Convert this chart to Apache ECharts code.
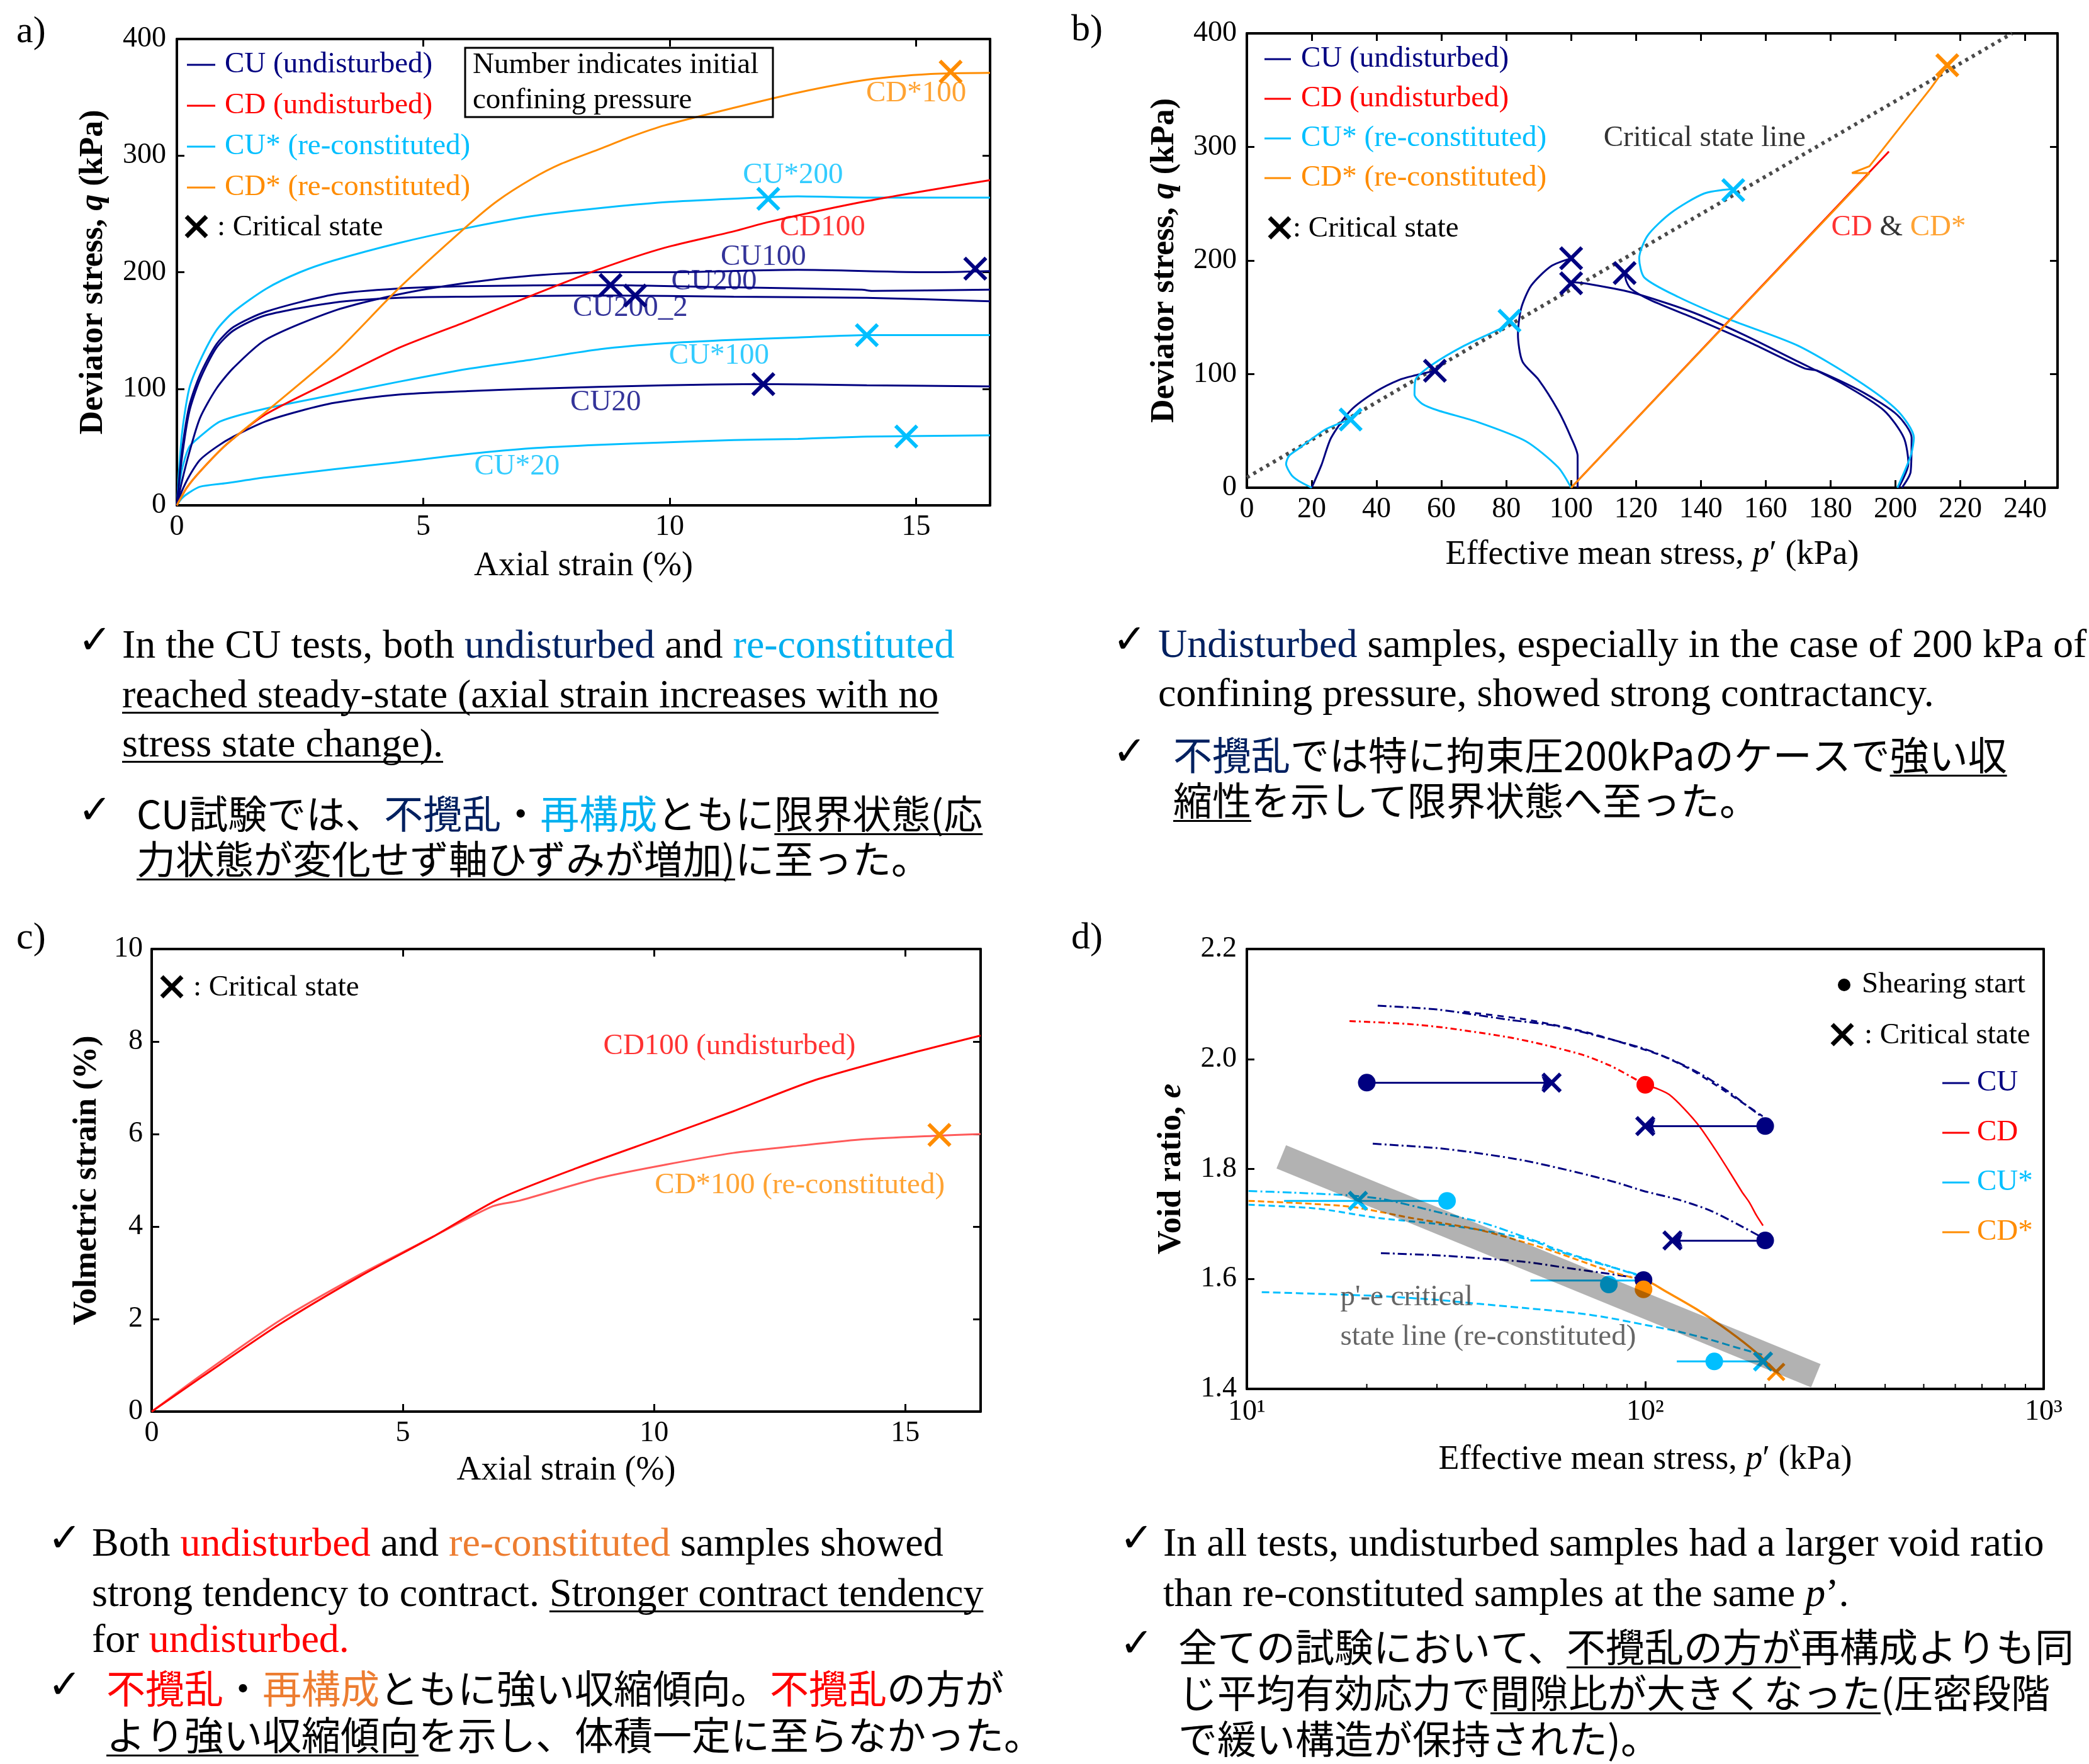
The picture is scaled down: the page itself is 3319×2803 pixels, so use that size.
<!DOCTYPE html>
<html><head><meta charset="utf-8">
<script src="https://cdn.jsdelivr.net/npm/echarts@6/dist/echarts.min.js"></script>
<style>html,body{margin:0;padding:0;background:#fff;}#c{width:3319px;height:2803px;}</style>
</head><body><div id="c"></div>
<script>
// ================= DATA =================
// Panel a : axial strain (%) vs deviator stress q (kPa)
const aCUs200 = [[0,0],[0.1,60],[0.25,100],[0.47,124],[0.8,150],[1.15,166],[1.82,186],[2.5,200],[3.18,210],[4.5,225],[5.9,238],[7.2,248],[8.6,255],[9.9,260],[11.3,263],[12.6,265],[14,264],[15.3,264],[16.5,264]];
const aCUs100 = [[0,0],[0.1,30],[0.25,50],[0.47,59],[0.88,72],[1.8,83],[3.2,95],[4.5,106],[5.9,117],[7.2,125],[8.6,134],[9.9,139],[11.3,142],[12.6,144],[14,146],[16.5,146]];
const aCUs20  = [[0,0],[0.1,6],[0.25,11],[0.47,16],[1,19],[1.8,24],[3.2,31],[4.5,37],[5.9,44],[7.2,49],[8.6,52],[9.9,54],[11.3,56],[12.6,57],[14,59],[16.5,60]];
const aCU20   = [[0,0],[0.1,12],[0.25,25],[0.47,39],[0.8,50],[1.15,59],[1.8,72],[2.5,81],[3.2,88],[4.5,95],[5.9,98],[7.2,100],[9.9,103],[11.8,104],[14,103],[16.5,102]];
const aCU200_2= [[0,0],[0.1,40],[0.25,80],[0.47,108],[0.8,135],[1.15,150],[1.8,163],[3.2,174],[4.5,178],[5.9,179],[8.6,180],[11.3,179],[14,178],[16.5,175]];
const aCU200  = [[0,0],[0.1,45],[0.25,85],[0.47,112],[0.8,138],[1.15,153],[1.8,166],[3.2,181],[4.5,186],[5.9,188],[8.6,189],[11.3,187],[13.9,185],[14.1,184],[16.5,185]];
const aCU100  = [[0,0],[0.1,20],[0.25,45],[0.47,75],[0.8,100],[1.15,118],[1.8,142],[3.2,167],[4.5,181],[5.9,191],[7.2,197],[8.6,200],[9.9,200],[12.6,202],[15.3,200],[16.5,201]];
const aCD100  = [[0,0],[0.2,15],[0.47,29],[1,52],[1.8,78],[3.2,108],[4.5,135],[5.9,158],[7.2,180],[8.6,203],[9.9,221],[11.3,235],[12.0,243],[14,261],[16.5,279]];
const aCDs100 = [[0,0],[0.2,15],[0.47,29],[1,52],[1.8,80],[3.2,130],[4.5,186],[5.9,240],[6.5,261],[7.2,280],[7.8,293],[8.6,306],[9.2,316],[9.9,326],[11.3,341],[12.6,354],[14,365],[15.3,370],[16.5,371]];
const aCritCU  = [[8.8,189],[9.3,180],[11.9,104],[16.2,203]];
const aCritCUs = [[12.0,263],[14.0,146],[14.8,59]];
const aCritCDs = [[15.7,372]];

// Panel b : p' (kPa) vs q (kPa)
const bCSL     = [[0,9],[236,400]];
const bCU20    = [[20,0],[23,20],[26,44],[32,68],[40,85],[47,95],[52,99],[55,101],[58,103]];
const bCUs20   = [[20,0],[16,6],[13.8,11],[12.1,21],[13,28],[15.8,34],[20,43],[24,51],[28,56],[32,60]];
const bCU100   = [[102,0],[102,28],[100,44],[96,68],[90,95],[85,111],[83.6,135],[84.6,158],[87.7,178],[93.8,195],[100,202]];
const bCUs100  = [[100,0],[96,18],[86,41],[71,58],[59,68],[54,74],[51.7,82],[52,95],[57,108],[67,125],[79.5,142],[81,147]];
const bCU200_2 = [[201,0],[204,21],[202.6,44],[196.5,68],[184,91],[170,111],[153,135],[137,155],[118.5,172],[104,180],[100,181]];
const bCU200   = [[202,0],[204.7,14],[205,44],[200.6,64],[190,84],[176,103],[172,105],[155,128],[139,148],[124.6,165],[118.5,175],[117,182],[116.5,189]];
const bCUs200  = [[200.6,0],[204.7,28],[205.7,44],[200.6,68],[188,95],[170,125],[149,148],[133,168],[122.6,185],[121,202],[123.6,222],[130.8,242],[141,259],[150,263]];
const bCD      = [[100,0],[198,296]];
const bCDs     = [[100,0],[192,277],[186.6,277],[192,283],[211,352],[215,368]];
const bCritCU  = [[58,103],[100,202],[100,180],[116.5,189]];
const bCritCUs = [[32,60],[81,147],[150,262]];
const bCritCDs = [[216,372]];

// Panel c : axial strain (%) vs volumetric strain (%)
const cCD100  = [[0,0],[1,0.75],[2.55,1.89],[4.14,2.92],[5.6,3.78],[6.92,4.6],[8.45,5.26],[10.24,5.96],[11.57,6.49],[13.16,7.15],[14.88,7.68],[16.5,8.13]];
const cCDs100 = [[0,0],[1,0.8],[2.55,1.97],[4.14,2.96],[5.6,3.78],[6.79,4.44],[7.32,4.56],[8.91,5.05],[10.24,5.34],[11.57,5.59],[12.9,5.75],[14.22,5.89],[15.54,5.96],[16.5,6.0]];
const cCrit   = [[15.68,5.98]];

// Panel d : p' (kPa, log) vs void ratio e
const dCUcons1  = [[21.3,2.097],[30,2.09],[45.9,2.071],[60,2.06],[81.6,2.036],[100,2.018],[119.7,1.995],[140,1.97],[162.9,1.939],[180,1.915],[197,1.894]];
const dCUcons2  = [[35,2.086],[50,2.072],[70,2.05],[90,2.027],[110,2.006],[130,1.981],[150,1.953],[175,1.921],[197,1.896]];
const dCUcons3  = [[20.7,1.846],[30,1.838],[37.9,1.829],[50,1.815],[67.3,1.794],[85,1.775],[99,1.76],[120,1.745],[145,1.725],[170,1.7],[197,1.675]];
const dCUcons4  = [[21.7,1.647],[30,1.643],[37.9,1.638],[50,1.631],[62.3,1.621],[80,1.61],[99,1.6]];
const dCDcons   = [[18.1,2.069],[25,2.064],[31.3,2.057],[45,2.04],[55.6,2.026],[70,2.007],[81.6,1.988],[92,1.968],[100,1.953]];
const dCDshear  = [[100,1.953],[108,1.945],[115,1.935],[125,1.91],[136.9,1.877],[150,1.835],[163,1.794],[175,1.758],[182.6,1.739],[190,1.716],[197.5,1.697]];
const dCUscons1 = [[10.1,1.76],[13,1.757],[18,1.752],[22,1.745],[30,1.722],[40,1.70],[53.6,1.668],[56,1.664],[58,1.655],[75,1.63],[99,1.605]];
const dCUscons2 = [[10.1,1.735],[15,1.728],[21.3,1.711],[30,1.70],[37.9,1.69],[50,1.673],[65,1.645],[80,1.625],[99,1.603]];
const dCUscons3 = [[10.9,1.576],[15,1.573],[21.3,1.569],[30,1.562],[37.9,1.555],[50,1.547],[67.3,1.538],[80,1.53],[99,1.517],[120,1.505],[145,1.49],[170,1.475],[197.5,1.462]];
const dCDscons  = [[10.1,1.742],[17.9,1.732],[25.8,1.711],[37.9,1.69],[55.6,1.656],[81.6,1.614],[99,1.597]];
const dCDsshear = [[99,1.597],[104,1.592],[111,1.58],[134.5,1.545],[162.9,1.504],[190,1.466],[213,1.431]];
const dCUpaths  = [[[20,1.957],[58.2,1.957]],[[200,1.878],[100,1.878]],[[200,1.67],[117,1.67]]];
const dCUspaths = [[[12.4,1.742],[31.8,1.742]],[[51.5,1.597],[99,1.597]],[[120,1.45],[197.5,1.45]]];
const dStartCU  = [[20,1.957],[200,1.878],[200,1.67],[99,1.598]];
const dStartCD  = [[100,1.953]];
const dStartCUs = [[31.8,1.742],[81,1.59],[149,1.45]];
const dStartCDs = [[99,1.581]];
const dCritCU   = [[58.2,1.957],[100,1.878],[117,1.67]];
const dCritCUs  = [[19,1.742],[197.5,1.45]];
const dCritCDs  = [[213,1.431]];
const dBand     = [[12.2,1.822],[268,1.424]];
const dMinorTicks = [20,30,40,50,60,70,80,90,200,300,400,500,600,700,800,900];

// Tick/axis texts
const logLabels = {1:'10\u00B9', 2:'10\u00B2', 3:'10\u00B3'};

// ================= STYLE =================
const NAVY='#000080', RED='#ff0000', CYAN='#00bfff', ORANGE='#ff8c00', SALMON='#ff5a5a';
const T_NAVY='#002060', T_CYAN='#00b0f0', T_RED='#ff0000', T_ORANGE='#ed7d31';
const FONT='"Liberation Serif","Times New Roman",serif';
const JFONT='"Noto Sans CJK JP",sans-serif';
const XPATH='path://M0,0L10,10M10,0L0,10';

function P(i){ const k=[0,2,4,6][i]; return {xAxisIndex:k, yAxisIndex:k}; }
function ln(panel, data, color, o){ o=o||{};
  return Object.assign({type:'line', data:data, symbol:'none', showSymbol:false, silent:true,
    smooth: (o.smooth===undefined?0.25:o.smooth), z:(o.z||2),
    lineStyle:{color:color, width:(o.width||3), type:(o.type||'solid'), cap:(o.cap||'butt'), opacity:1}}, P(panel)); }
function xs(panel, data, color, size, bw){
  return Object.assign({type:'scatter', data:data, symbol:XPATH, symbolSize:size||34, silent:true, z:4,
    itemStyle:{color:'rgba(0,0,0,0)', borderColor:color, borderWidth:bw||6, opacity:1}}, P(panel)); }
function dots(panel, data, color, size){
  return Object.assign({type:'scatter', data:data, symbol:'circle', symbolSize:size||28, silent:true, z:4,
    itemStyle:{color:color, opacity:1}}, P(panel)); }
function lbl(panel, x, y, text, color, pos, extra){
  return Object.assign({type:'scatter', data:[[x,y]], symbolSize:1, silent:true, z:6, itemStyle:{color:'rgba(0,0,0,0)'},
    label:Object.assign({show:true, position:pos||'inside', distance:0, formatter:text, color:color, fontFamily:FONT, fontSize:47}, extra||{})}, P(panel)); }
function arrowLine(panel, seg, color){
  return Object.assign({type:'lines', coordinateSystem:'cartesian2d', silent:true, z:3, symbol:['none','arrow'], symbolSize:16,
    lineStyle:{color:color, width:3, opacity:1, curveness:0}, data:[{coords:seg}]}, P(panel)); }

const AXL={onZero:false, lineStyle:{color:'#000', width:4}};
const TICK={show:true, inside:true, length:12, lineStyle:{color:'#000', width:3}};
const LAB={fontFamily:FONT, fontSize:46, color:'#000'};
const XNAME={fontFamily:FONT, fontSize:54, color:'#000', rich:{i:{fontFamily:FONT, fontSize:54, fontStyle:'italic', color:'#000'}}};
const YNAME={fontFamily:FONT, fontSize:52, fontWeight:'bold', color:'#000', rich:{i:{fontFamily:FONT, fontSize:52, fontStyle:'italic', fontWeight:'bold', color:'#000'}}};

function valAxis(grid, pos, min, max, interval, o){ o=o||{};
  const main = (pos==='bottom'||pos==='left');
  const a = {gridIndex:grid, type:'value', position:pos, min:min, max:max, interval:interval,
    axisLine:AXL, axisTick:TICK, splitLine:{show:false},
    axisLabel: main ? Object.assign({}, LAB, {margin:o.margin||12, showMaxLabel:o.showMax!==false, formatter:o.fmt}) : {show:false}};
  if (main && o.name){ a.name=o.name; a.nameLocation='middle'; a.nameGap=o.gap; a.nameTextStyle=o.nameStyle; }
  return a;
}

const xAxes = [
  valAxis(0,'bottom',0,16.5,5,{name:'Axial strain (%)', gap:70, nameStyle:XNAME, showMax:false, margin:12}),
  valAxis(0,'top',0,16.5,5),
  valAxis(1,'bottom',0,250,20,{name:'Effective mean stress, {i|p}\u2032 (kPa)', gap:80, nameStyle:XNAME, showMax:false, margin:12}),
  valAxis(1,'top',0,250,20),
  valAxis(2,'bottom',0,16.5,5,{name:'Axial strain (%)', gap:67, nameStyle:XNAME, showMax:false, margin:12}),
  valAxis(2,'top',0,16.5,5),
  {gridIndex:3, type:'log', logBase:10, min:10, max:1000, position:'bottom', axisLine:AXL, axisTick:TICK, splitLine:{show:false}, minorTick:{show:false},
    axisLabel:Object.assign({}, LAB, {margin:14, formatter:function(v){ return logLabels[Math.round(Math.log10(v))]||''; }}),
    name:'Effective mean stress, {i|p}\u2032 (kPa)', nameLocation:'middle', nameGap:86, nameTextStyle:XNAME},
  {gridIndex:3, type:'log', logBase:10, min:10, max:1000, position:'top', axisLine:AXL, axisTick:{show:false}, axisLabel:{show:false}, splitLine:{show:false}}
];
const yAxes = [
  valAxis(0,'left',0,400,100,{name:'Deviator stress, {i|q} (kPa)', gap:106, nameStyle:YNAME, margin:17}),
  valAxis(0,'right',0,400,100),
  valAxis(1,'left',0,400,100,{name:'Deviator stress, {i|q} (kPa)', gap:104, nameStyle:YNAME, margin:16}),
  valAxis(1,'right',0,400,100),
  valAxis(2,'left',0,10,2,{name:'Volmetric strain (%)', gap:76, nameStyle:YNAME, margin:14}),
  valAxis(2,'right',0,10,2),
  valAxis(3,'left',1.4,2.2,0.2,{name:'Void ratio, {i|e}', gap:93, nameStyle:YNAME, margin:16, fmt:function(v){return v.toFixed(1);}}),
  {gridIndex:3, type:'value', position:'right', min:1.4, max:2.2, axisLine:AXL, axisTick:{show:false}, axisLabel:{show:false}, splitLine:{show:false}}
];

const series = [
  // ---- panel a
  ln(0,aCUs200,CYAN), ln(0,aCUs100,CYAN), ln(0,aCUs20,CYAN),
  ln(0,aCU20,NAVY), ln(0,aCU200_2,NAVY), ln(0,aCU200,NAVY), ln(0,aCU100,NAVY),
  ln(0,aCD100,RED), ln(0,aCDs100,ORANGE),
  xs(0,aCritCU,NAVY), xs(0,aCritCUs,CYAN), xs(0,aCritCDs,ORANGE),
  lbl(0,15.0,353,'CD*100',ORANGE), lbl(0,12.5,283,'CU*200',CYAN), lbl(0,13.1,238,'CD100',RED),
  lbl(0,11.9,213,'CU100',NAVY), lbl(0,10.9,192,'CU200',NAVY), lbl(0,9.2,169,'CU200_2',NAVY),
  lbl(0,11.0,128,'CU*100',CYAN), lbl(0,8.7,88,'CU20',NAVY), lbl(0,6.9,33,'CU*20',CYAN),
  // ---- panel b
  ln(1,bCSL,'#4a4a4a',{smooth:false, type:[5,7], width:6}),
  ln(1,bCU20,NAVY), ln(1,bCUs20,CYAN), ln(1,bCU100,NAVY), ln(1,bCUs100,CYAN),
  ln(1,bCU200_2,NAVY), ln(1,bCU200,NAVY), ln(1,bCUs200,CYAN),
  ln(1,bCD,RED,{smooth:false}), ln(1,bCDs,ORANGE,{smooth:false}),
  xs(1,bCritCU,NAVY), xs(1,bCritCUs,CYAN), xs(1,bCritCDs,ORANGE),
  lbl(1,109.9,307.5,'Critical state line','#000','right'),
  lbl(1,180.1,228.8,'{r|CD} & {o|CD*}','#000','right',{rich:{r:{color:RED,fontFamily:FONT,fontSize:47}, o:{color:ORANGE,fontFamily:FONT,fontSize:47}}}),
  // ---- panel c
  ln(2,cCDs100,SALMON), ln(2,cCD100,RED),
  xs(2,cCrit,ORANGE),
  lbl(2,11.5,7.89,'CD100 (undisturbed)',RED), lbl(2,12.9,4.89,'CD*100 (re-constituted)',ORANGE),
  // ---- panel d
  ln(3,dCUcons1,NAVY,{type:[14,5,3,5]}), ln(3,dCUcons2,NAVY,{type:[10,8]}),
  ln(3,dCUcons3,NAVY,{type:[14,5,3,5]}), ln(3,dCUcons4,NAVY,{type:[14,5,3,5]}),
  ln(3,dCDcons,RED,{type:[10,5,3,5]}), ln(3,dCDshear,RED,{width:2.5}),
  ln(3,dCUscons1,CYAN,{type:[14,5,3,5]}), ln(3,dCUscons2,CYAN,{type:[10,6]}), ln(3,dCUscons3,CYAN,{type:[12,6]}),
  ln(3,dCDscons,ORANGE,{type:[10,5]}), ln(3,dCDsshear,ORANGE,{width:3.5}),
  arrowLine(3,dCUpaths[0],NAVY), arrowLine(3,dCUpaths[1],NAVY), arrowLine(3,dCUpaths[2],NAVY),
  ln(3,dCUspaths[0],CYAN,{smooth:false}), ln(3,dCUspaths[1],CYAN,{smooth:false}), ln(3,dCUspaths[2],CYAN,{smooth:false}),
  dots(3,dStartCU,NAVY), dots(3,dStartCD,RED), dots(3,dStartCUs,CYAN), dots(3,dStartCDs,ORANGE),
  xs(3,dCritCU,NAVY,28,6), xs(3,dCritCUs,CYAN,28,6), xs(3,dCritCDs,ORANGE,26,5),
  ln(3,dBand,'rgba(0,0,0,0.3)',{smooth:false, width:40, z:10}),
  Object.assign({type:'custom', silent:true, z:5, data:dMinorTicks.map(function(v){return [v,1.4];}),
    renderItem:function(params, api){ const p=api.coord([api.value(0),1.4]);
      return {type:'line', shape:{x1:p[0], y1:p[1], x2:p[0], y2:p[1]-8}, style:{stroke:'#000', lineWidth:2}}; }}, P(3)),
  lbl(3,17.13,1.566,"p'-e critical",'#404040','right'),
  lbl(3,17.13,1.494,'state line (re-constituted)','#404040','right')
];

// ================= GRAPHIC (legends, panel letters, text blocks) =================
const G=[];
const mctx=document.createElement('canvas').getContext('2d');
function tw(t,f){ mctx.font=f; return mctx.measureText(t).width; }
function gtext(x,y,t,color,size,family,style,weight){
  const f=(style||'normal')+' '+(weight||'normal')+' '+size+'px '+family;
  G.push({type:'text', x:x, y:y, silent:true, z:20, style:{text:t, font:f, fill:color, align:'left', verticalAlign:'middle', textAlign:'left', textVerticalAlign:'middle'}});
  return tw(t,f);
}
function gline(x1,y1,x2,y2,color,w){ G.push({type:'line', silent:true, z:20, shape:{x1:x1,y1:y1,x2:x2,y2:y2}, style:{stroke:color, lineWidth:w}}); }
function gX(cx,cy,h,color,w){ gline(cx-h,cy-h,cx+h,cy+h,color,w); gline(cx+h,cy-h,cx-h,cy+h,color,w); }
function para(x,y,segs,size,family,ulOff){
  let cx=x;
  segs.forEach(function(s){
    const w=gtext(cx,y,s[0],s[1],size,family,s[3]);
    if(s[2]) G.push({type:'rect', silent:true, z:20, shape:{x:cx, y:y+ulOff, width:w, height:3}, style:{fill:'#000'}});
    cx+=w;
  });
}
function check(x,y){ gtext(x,y,'\u2713','#000',64,'"DejaVu Sans"',null,'bold'); }

// panel letters
gtext(26,51,'a)','#000',60,FONT); gtext(1702,48,'b)','#000',60,FONT);
gtext(26,1491,'c)','#000',60,FONT); gtext(1702,1491,'d)','#000',60,FONT);

// legend a
const legA=[['CU (undisturbed)',NAVY],['CD (undisturbed)',RED],['CU* (re-constituted)',CYAN],['CD* (re-constituted)',ORANGE]];
legA.forEach(function(l,i){ const y=103+65*i; gline(297,y,342,y,l[1],3); gtext(357,y,l[0],l[1],47,FONT); });
gX(312,360,16,'#000',7); gtext(345,362,': Critical state','#000',47,FONT);
G.push({type:'rect', silent:true, z:20, shape:{x:739,y:76,width:489,height:110}, style:{fill:'none', stroke:'#000', lineWidth:3}});
gtext(751,104,'Number indicates initial','#000',47,FONT); gtext(751,160,'confining pressure','#000',47,FONT);

// legend b
legA.forEach(function(l,i){ const y=94+63*i; gline(2009,y,2051,y,l[1],3); gtext(2067,y,l[0],l[1],47,FONT); });
gX(2033,362,16,'#000',7); gtext(2054,364,': Critical state','#000',47,FONT);

// legend c
gX(273,1568,16,'#000',7); gtext(307,1570,': Critical state','#000',47,FONT);

// legend d
G.push({type:'circle', silent:true, z:20, shape:{cx:2930, cy:1565, r:10}, style:{fill:'#000'}});
gtext(2958,1565,'Shearing start','#000',47,FONT);
gX(2927,1644,16,'#000',7); gtext(2962,1646,': Critical state','#000',47,FONT);
const legD=[['CU',NAVY],['CD',RED],['CU*',CYAN],['CD*',ORANGE]];
legD.forEach(function(l,i){ const y=1721+79*i; gline(3086,y,3129,y,l[1],3); gtext(3141,y,l[0],l[1],47,FONT); });

// text blocks
const txtA_en=[
  [['In the CU tests, both ','#000'],['undisturbed',T_NAVY],[' and ','#000'],['re-constituted',T_CYAN]],
  [['reached steady-state (axial strain increases with no','#000',true]],
  [['stress state change).','#000',true]]];
const txtA_ja=[
  [['CU試験では、','#000'],['不攪乱',T_NAVY],['・','#000'],['再構成',T_CYAN],['ともに','#000'],['限界状態(応','#000',true]],
  [['力状態が変化せず軸ひずみが増加)','#000',true],['に至った。','#000']]];
const txtB_en=[
  [['Undisturbed',T_NAVY],[' samples, especially in the case of 200 kPa of','#000']],
  [['confining pressure, showed strong contractancy.','#000']]];
const txtB_ja=[
  [['不攪乱',T_NAVY],['では特に拘束圧200kPaのケースで','#000'],['強い収','#000',true]],
  [['縮性','#000',true],['を示して限界状態へ至った。','#000']]];
const txtC_en=[
  [['Both ','#000'],['undisturbed',T_RED],[' and ','#000'],['re-constituted',T_ORANGE],[' samples showed','#000']],
  [['strong tendency to contract. ','#000'],['Stronger contract tendency','#000',true]],
  [['for ','#000'],['undisturbed.',T_RED]]];
const txtC_ja=[
  [['不攪乱',T_RED],['・','#000'],['再構成',T_ORANGE],['ともに強い収縮傾向。','#000'],['不攪乱',T_RED],['の方が','#000']],
  [['より強い収縮傾向','#000',true],['を示し、体積一定に至らなかった。','#000']]];
const txtD_en=[
  [['In all tests, undisturbed samples had a larger void ratio','#000']],
  [['than re-constituted samples at the same ','#000'],['p','#000',false,'italic'],['\u2019.','#000']]];
const txtD_ja=[
  [['全ての試験において、','#000'],['不攪乱の方が','#000',true],['再構成よりも同','#000']],
  [['じ平均有効応力で','#000'],['間隙比が大きくなった','#000',true],['(圧密段階','#000']],
  [['で緩い構造が保持された)。','#000']]];

function block(chkX, xE, ysE, linesE, xJ, ysJ, linesJ){
  linesE.forEach(function(l,i){ para(xE, ysE[i]+5, l, 64, FONT, 24); });
  check(chkX, ysE[0]-2);
  linesJ.forEach(function(l,i){ para(xJ, ysJ[i], l, 62, JFONT, 31); });
  check(chkX, ysJ[0]-2);
}
block(124,194,[1023,1102,1180],txtA_en,217,[1293,1365],txtA_ja);
block(1768,1840,[1022,1100],txtB_en,1864,[1200,1272],txtB_ja);
block(76,146,[2450,2530,2603],txtC_en,169,[2683,2757],txtC_ja);
block(1779,1848,[2450,2530],txtD_en,1872,[2617,2690,2763],txtD_ja);

const option={
  animation:false, backgroundColor:'#ffffff',
  grid:[
    {left:281, top:62, width:1292, height:741, outerBoundsMode:'none', containLabel:false},
    {left:1981, top:53, width:1288, height:722, outerBoundsMode:'none', containLabel:false},
    {left:241, top:1508, width:1317, height:735, outerBoundsMode:'none', containLabel:false},
    {left:1981, top:1508, width:1266, height:699, outerBoundsMode:'none', containLabel:false}
  ],
  xAxis:xAxes, yAxis:yAxes, series:series, graphic:G
};
const chart=echarts.init(document.getElementById('c'),null,{renderer:'canvas',width:3319,height:2803});
chart.setOption(option);
</script></body></html>
